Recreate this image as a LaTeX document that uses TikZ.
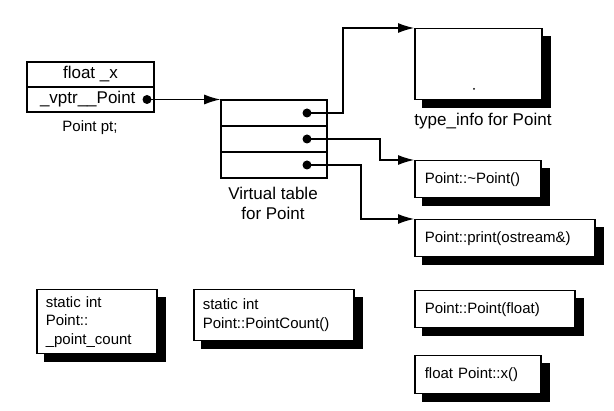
\documentclass[tikz,border=0pt]{standalone}
\usepackage{fontspec}
\setmainfont{Liberation Sans}
\usetikzlibrary{arrows.meta,backgrounds,calc}
\begin{document}
\begin{tikzpicture}[x=1pt,y=-1pt,
  bigfont/.style={font=\fontsize{17}{20}\selectfont},
  smallfont/.style={font=\fontsize{15}{18.5}\selectfont},
  cell/.style={draw,line width=1.6pt,inner sep=0pt,bigfont},
  vcell/.style={draw,line width=1.6pt,inner sep=0pt,minimum width=106pt,minimum height=26pt},
  shbox/.style={draw,line width=1.5pt,fill=white,anchor=north west,inner xsep=10pt,inner ysep=0pt,
    align=left,smallfont},
  boxshade/.style={fill=black},
  conn/.style={line width=1.1pt,-{Latex[length=16pt,width=10pt]}},
  dotmark/.style={fill=black}
]
\useasboundingbox (0,0) rectangle (614,411);

% Point object
\node[cell,minimum width=127pt,minimum height=25pt] (ptx) at (90.5,74.5) {float \_x};
\node[cell,minimum width=127pt,minimum height=25pt,text width=101pt,inner xsep=13pt,align=left] (ptv) at (90.5,99.5) {\_vptr\_\_Point};
\node[smallfont] (ptlabel) at (90,128) {Point pt;};
\coordinate (d0) at (147,99.5);
\fill[dotmark] (d0) circle[radius=4.5pt];

% Virtual table
\node[vcell] (vt1) at (274,113) {};
\node[vcell] (vt2) at (274,139) {};
\node[vcell] (vt3) at (274,165) {};
\node[bigfont,align=center] (vtlabel) at (273,203) {Virtual table\\for Point};
\coordinate (v1) at (307,113);
\coordinate (v2) at (307,139);
\coordinate (v3) at (307,165);
\foreach \c in {v1,v2,v3} \fill[dotmark] (\c) circle[radius=4.5pt];

% Right boxes
\node[shbox,minimum width=127pt,minimum height=71pt] (ti) at (414,28) {};
\fill (474,89) circle[radius=1pt];
\node[bigfont] (tilabel) at (483,121) {type\_info for Point};
\node[shbox,minimum width=126pt,minimum height=37pt,text width=106pt] (dtor) at (414,160) {Point::\textasciitilde Point()};
\node[shbox,minimum width=180pt,minimum height=37pt,text width=160pt] (prn) at (414,219) {Point::print(ostream\&)};
\node[shbox,minimum width=160pt,minimum height=37pt,text width=140pt] (pf) at (414,290) {Point::Point(float)};
\node[shbox,minimum width=126pt,minimum height=38pt,text width=106pt] (px) at (414,355) {float Point::x()};

% Bottom-left boxes
\node[shbox,minimum width=120pt,minimum height=64pt,text width=102pt,inner xsep=9pt] (sc) at (36,289) {static int\\Point::\\\_point\_count};
\node[shbox,minimum width=160pt,minimum height=51pt,text width=142pt,inner xsep=9pt] (spc) at (193,289) {static int\\Point::PointCount()};

% Shadows behind the boxes
\begin{scope}[on background layer]
\foreach \b in {ti,dtor,prn,pf,px,sc,spc}
  \fill[boxshade] ($(\b.north west)+(8,8)$) rectangle ($(\b.south east)+(8,8)$);
\end{scope}

% Connectors
\draw[conn] (d0) -- (d0 -| vt1.west);
\draw[conn] (v1) -- ++(36,0) |- (ti.north west);
\draw[conn] (v2) -- ++(73,0) |- (dtor.north west);
\draw[conn] (v3) -- ++(54,0) |- (prn.north west);
\end{tikzpicture}
\end{document}
